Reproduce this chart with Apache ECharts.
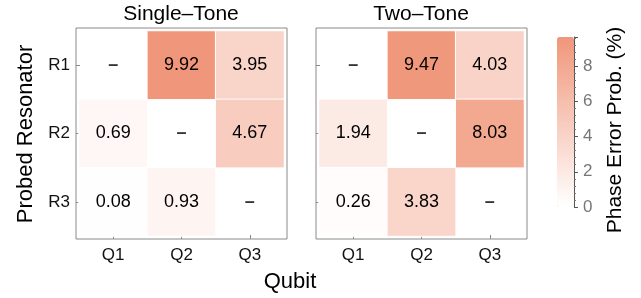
<!DOCTYPE html>
<html>
<head>
<meta charset="utf-8">
<script src="https://cdn.jsdelivr.net/npm/echarts@6/dist/echarts.min.js"></script>
<style>
html,body{margin:0;padding:0;background:#fff;}
#c{width:641px;height:298px;}
</style>
</head>
<body>
<div id="c"></div>
<script>
// ---- data ----
const qubits = ['Q1', 'Q2', 'Q3'];
const resonators = ['R1', 'R2', 'R3'];
// rows: R1, R2, R3 ; columns: Q1, Q2, Q3 ; null = not measured ("–")
const singleTone = [
  [null, 9.92, 3.95],
  [0.69, null, 4.67],
  [0.08, 0.93, null]
];
const twoTone = [
  [null, 9.47, 4.03],
  [1.94, null, 8.03],
  [0.26, 3.83, null]
];
const panelTitles = ['Single–Tone', 'Two–Tone'];
const colorTicks = [0, 2, 4, 6, 8];
const colorMax = 9.65;

// ---- build ----
const FONT = '"Liberation Sans", Arial, Helvetica, sans-serif';
function cells(m) {
  const out = [];
  m.forEach((row, r) => row.forEach((v, c) => { if (v !== null) out.push([c, r, v]); }));
  return out;
}
function dashes(m) {
  const out = [];
  m.forEach((row, r) => row.forEach((v, c) => { if (v === null) out.push([c, r]); }));
  return out;
}

const frameColor = '#8a8a8a';
const grids = [
  {left: 76, top: 28, width: 211, height: 211, show: true, borderColor: frameColor, borderWidth: 1},
  {left: 79, top: 31, width: 205, height: 205},
  {left: 316, top: 28, width: 211, height: 211, show: true, borderColor: frameColor, borderWidth: 1},
  {left: 319, top: 31, width: 205, height: 205},
  {left: 557, top: 37, width: 17, height: 170}
];

function hiddenX(g) { return {gridIndex: g, type: 'value', show: false}; }
function hiddenY(g) { return {gridIndex: g, type: 'value', show: false}; }

function dataX(g) {
  return {
    gridIndex: g, type: 'category', data: qubits, position: 'bottom', offset: 3,
    axisLine: {show: false},
    axisTick: {show: true, inside: true, length: 4, alignWithLabel: true, lineStyle: {color: frameColor}},
    axisLabel: {fontSize: 17, color: '#111', margin: 8, fontFamily: FONT},
    splitLine: {show: false}
  };
}
function dataY(g, labels) {
  return {
    gridIndex: g, type: 'category', data: resonators, inverse: true, position: 'left', offset: 3,
    axisLine: {show: false},
    axisTick: {show: true, inside: true, length: 4, alignWithLabel: true, lineStyle: {color: frameColor}},
    axisLabel: {show: labels, fontSize: 17, color: '#111', margin: 6, fontFamily: FONT},
    splitLine: {show: false}
  };
}

const xAxes = [hiddenX(0), dataX(1), hiddenX(2), dataX(3),
  {gridIndex: 4, type: 'category', data: [''], show: false}];
const yAxes = [hiddenY(0), dataY(1, true), hiddenY(2), dataY(3, false),
  {
    gridIndex: 4, type: 'value', position: 'right', min: 0, max: colorMax, interval: 2,
    axisLine: {show: true, lineStyle: {color: '#555'}},
    axisTick: {show: true, inside: false, length: 4, lineStyle: {color: '#555'}},
    minorTick: {show: true, splitNumber: 5, length: 2, lineStyle: {color: '#777'}},
    axisLabel: {fontSize: 17, color: '#777', margin: 9, fontFamily: FONT, showMaxLabel: false,
      formatter: v => (colorTicks.indexOf(v) >= 0 ? String(v) : '')},
    splitLine: {show: false}
  }];

function heat(m, xi, yi) {
  return {
    type: 'heatmap', xAxisIndex: xi, yAxisIndex: yi, data: cells(m),
    itemStyle: {borderColor: '#fff', borderWidth: 1},
    label: {show: true, fontSize: 18, color: '#000', fontFamily: FONT,
      formatter: p => p.value[2].toFixed(2)},
    emphasis: {disabled: true}
  };
}
function dashSeries(m, xi, yi) {
  return {
    type: 'scatter', xAxisIndex: xi, yAxisIndex: yi, data: dashes(m),
    symbolSize: 1, itemStyle: {color: 'rgba(0,0,0,0)'},
    label: {show: true, position: 'inside', formatter: '–', fontSize: 18, fontWeight: 'bold',
      color: '#000', fontFamily: FONT},
    emphasis: {disabled: true}, silent: true
  };
}

const option = {
  animation: false,
  backgroundColor: '#fff',
  grid: grids,
  xAxis: xAxes,
  yAxis: yAxes,
  visualMap: {
    type: 'continuous', min: 0, max: colorMax, seriesIndex: [0, 1],
    left: 557, top: 37, itemWidth: 17, itemHeight: 170, padding: 0,
    calculable: false, showLabel: false, text: null, hoverLink: false,
    inRange: {color: ['#ffffff', '#f0967a']}
  },
  series: [
    heat(singleTone, 1, 1),
    heat(twoTone, 3, 3),
    dashSeries(singleTone, 1, 1),
    dashSeries(twoTone, 3, 3)
  ],
  graphic: [
    {type: 'text', x: 181, y: 14, style: {text: panelTitles[0], font: '21px ' + FONT, fill: '#000',
      align: 'center', verticalAlign: 'middle'}},
    {type: 'text', x: 421, y: 14, style: {text: panelTitles[1], font: '21px ' + FONT, fill: '#000',
      align: 'center', verticalAlign: 'middle'}},
    {type: 'text', x: 290, y: 282, style: {text: 'Qubit', font: '22px ' + FONT, fill: '#000',
      align: 'center', verticalAlign: 'middle'}},
    {type: 'text', x: 26, y: 134, rotation: Math.PI / 2, style: {text: 'Probed Resonator',
      font: '22px ' + FONT, fill: '#000', align: 'center', verticalAlign: 'middle'}},
    {type: 'text', x: 615, y: 130, rotation: Math.PI / 2, style: {text: 'Phase Error Prob. (%)',
      font: '21px ' + FONT, fill: '#000', align: 'center', verticalAlign: 'middle'}}
  ]
};

const chart = echarts.init(document.getElementById('c'), null, {renderer: 'canvas'});
chart.setOption(option);
</script>
</body>
</html>
